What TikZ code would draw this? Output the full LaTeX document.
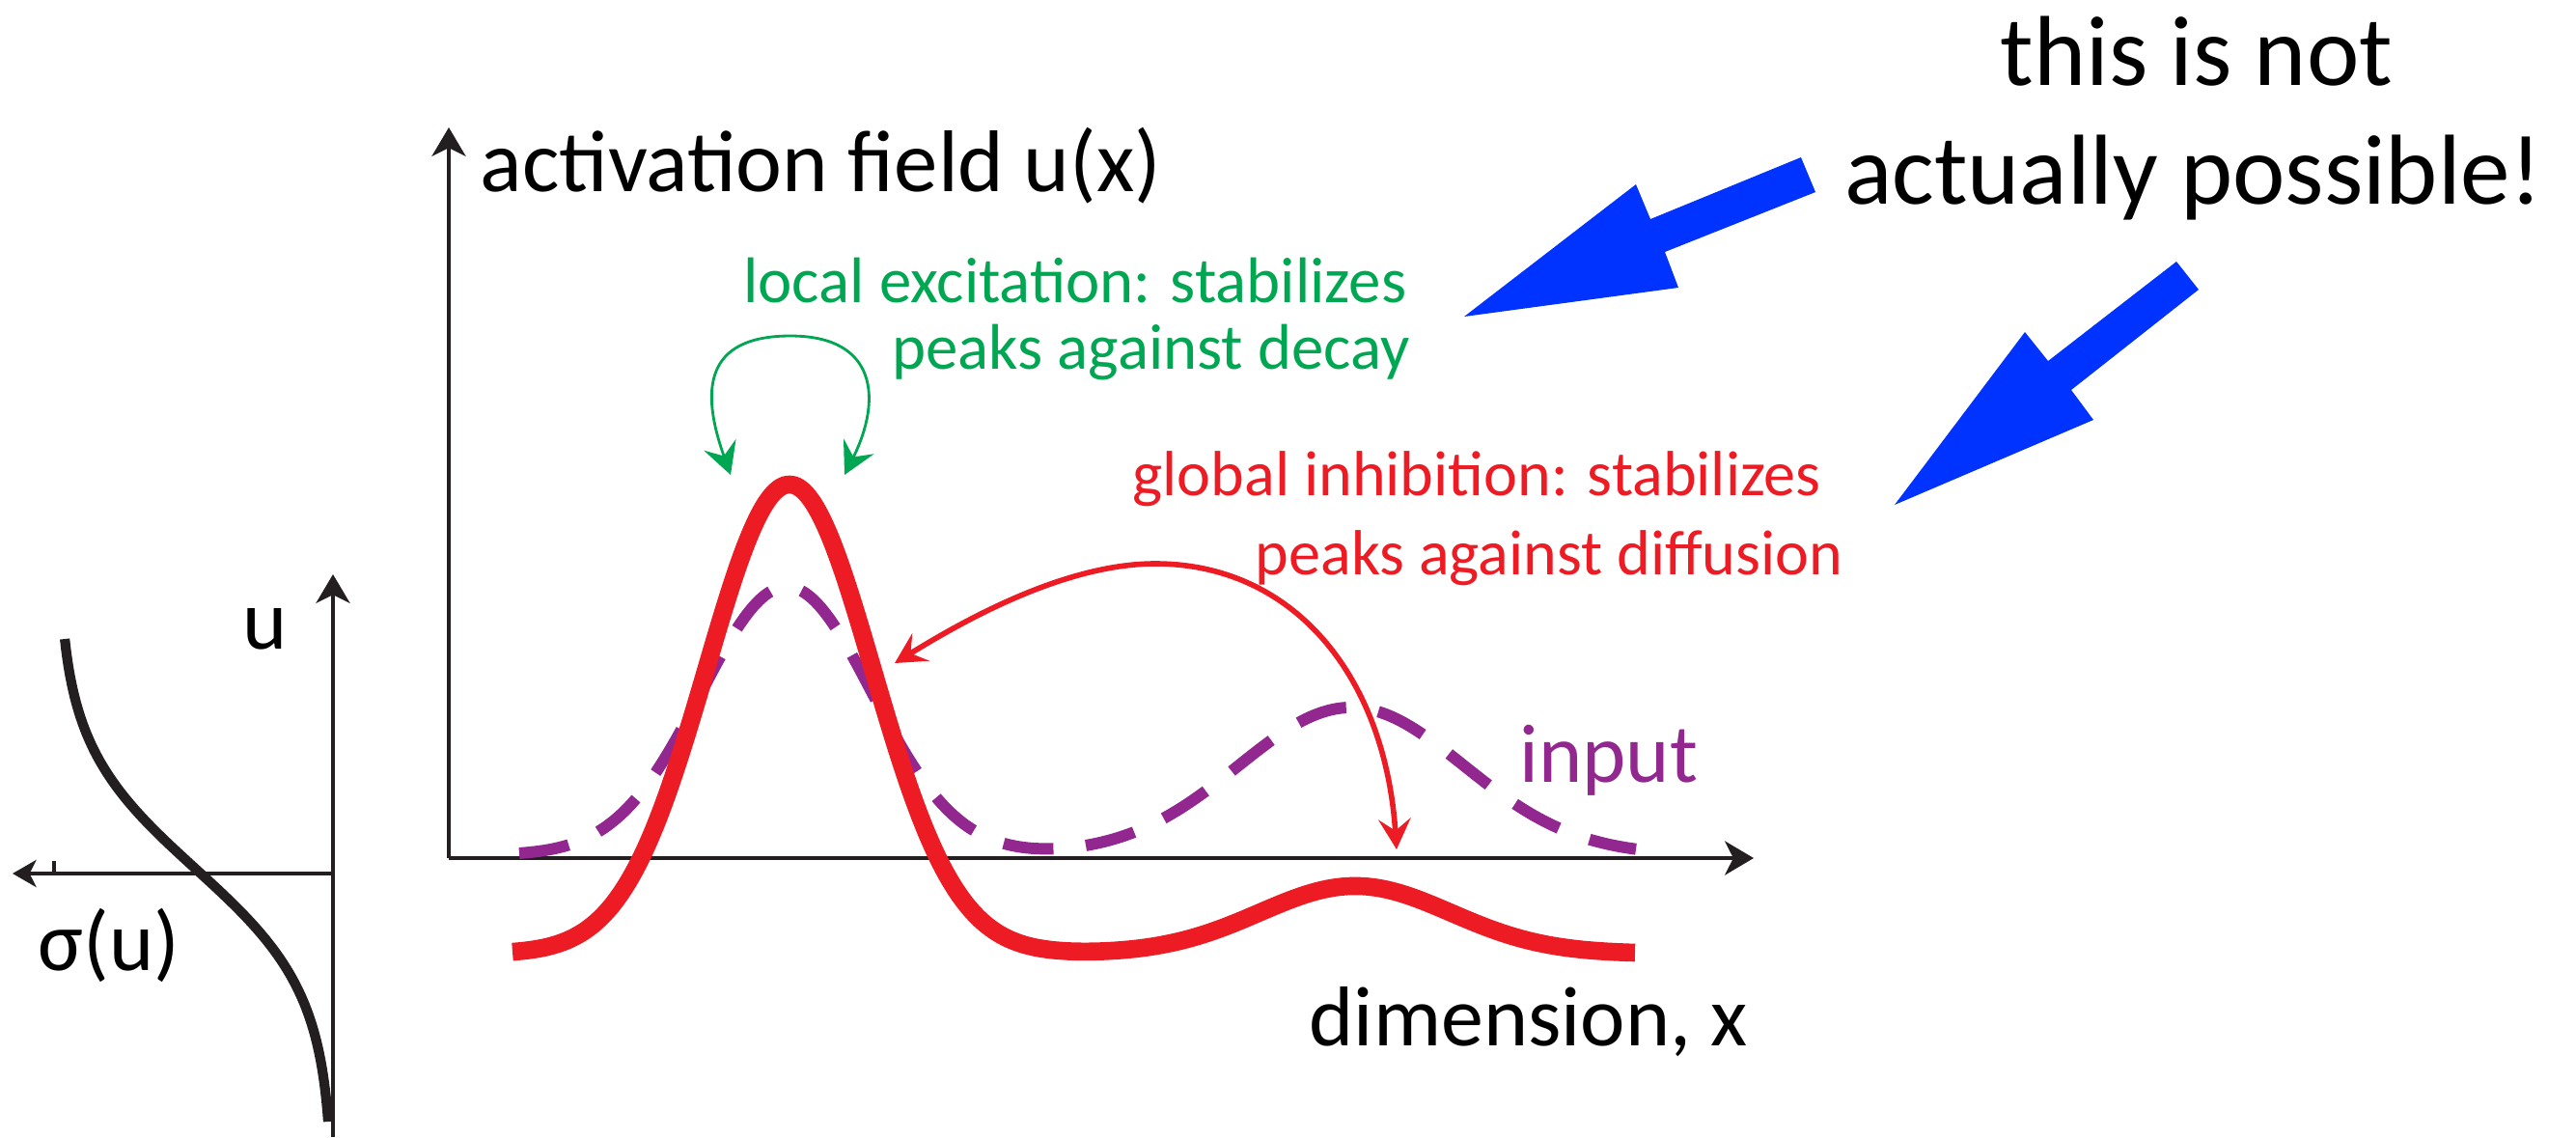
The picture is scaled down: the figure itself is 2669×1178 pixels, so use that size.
\documentclass[tikz,border=0pt]{standalone}
\usepackage{fontspec}
\setmainfont{Carlito}
\usetikzlibrary{arrows.meta}
\definecolor{myred}{HTML}{ED1C24}
\definecolor{mygreen}{HTML}{00A651}
\definecolor{mypurple}{HTML}{92278F}
\definecolor{myblue}{HTML}{0033FF}
\definecolor{myblack}{HTML}{231F20}
\tikzset{
  axisline/.style={draw=myblack, line width=1.1pt},
  axishead/.style={-{Stealth[length=8.5pt,width=10pt,inset=2.5pt]}},
  blacklabel/.style={inner sep=0pt, font=\fontsize{25}{30}\selectfont, text=black},
  greenlabel/.style={inner sep=0pt, font=\fontsize{19}{23}\selectfont, text=mygreen},
  redlabel/.style={inner sep=0pt, font=\fontsize{18.8}{23}\selectfont, text=myred},
  titlelabel/.style={inner sep=0pt, font=\fontsize{29.3}{35}\selectfont, text=black},
  fieldcurve/.style={draw=myred, line width=5.3pt},
  inputcurve/.style={draw=mypurple, line width=3.4pt, dash pattern=on 14.8pt off 9.6pt},
  bluearrow/.style={fill=myblue, draw=none},
}
\begin{document}
\begin{tikzpicture}[x=0.01cm,y=-0.01cm]
\useasboundingbox (0,0) rectangle (2669,1178);

% ---- small sigmoid plot ----
\coordinate (sorigin) at (345,905);
\coordinate (sbottom) at (345,1178);
\coordinate (stop) at (345,595);
\coordinate (sleft) at (13,905);
\draw[axisline, axishead] (sbottom) -- (stop);
\draw[axisline, -{Stealth[length=7pt,width=8pt,inset=2pt]}] (sorigin) -- (sleft);
\coordinate (tickbase) at (56,905);
\coordinate (ticktop) at (56,892);
\draw[axisline] (tickbase) -- (ticktop);
\draw[draw=myblack, line width=2.9pt] plot[domain=662:1162, samples=120, smooth]
  ({345 - 285/(1+exp((\x-900)/65))}, \x);
\node[blacklabel, anchor=base] (ulabel) at (275,672) {u};
\node[blacklabel, anchor=base west] (sigmalabel) at (39,1005) {σ(u)};

% ---- main axes ----
\coordinate (origin) at (465,889);
\coordinate (ytop) at (465,132);
\coordinate (xend) at (1817,889);
\draw[axisline, axishead] (origin) -- (ytop);
\draw[axisline, axishead] (origin) -- (xend);
\node[blacklabel, font=\fontsize{25.8}{30}\selectfont, anchor=base west] (ylabel) at (497,198) {activation field u(x)};
\node[blacklabel, anchor=base west] (xlabel) at (1356,1083) {dimension, x};

% ---- input (dashed) ----
\draw[inputcurve] plot[domain=538:1695, samples=220, smooth]
  (\x, {886 - 278*exp(-min(((\x-815)/125)^2,9)) - 153*exp(-min(((\x-1400)/165)^2,9))});
\node[inner sep=0pt, font=\fontsize{24.5}{28}\selectfont, text=mypurple, anchor=base west] (inputlabel) at (1574,810) {input};

% ---- activation field ----
\draw[fieldcurve] plot[domain=531:1694, samples=240, smooth]
  (\x, {988 - 486*exp(-min(((\x-818)/122)^2,9)) - 70*exp(-min(((\x-1404)/140)^2,9))});

% ---- local excitation ----
\node[greenlabel, anchor=base east] (green1) at (1458,313) {local excitation: stabilizes};
\node[greenlabel, anchor=base east] (green2) at (1461,382) {peaks against decay};
\coordinate (gtop) at (819,348);
\coordinate (gleft) at (757,492);
\coordinate (gright) at (875,492);
\draw[draw=mygreen, line width=0.8pt, {Stealth[length=9.4pt,width=10pt,inset=3.5pt]}-{Stealth[length=9.4pt,width=10pt,inset=3.5pt]}]
  (gleft) .. controls (726,405) and (729,348) .. (gtop)
  .. controls (909,348) and (914,414) .. (gright);

% ---- global inhibition ----
\node[redlabel, anchor=base west] (red1) at (1173,513) {global inhibition: stabilizes};
\node[redlabel, anchor=base west] (red2) at (1300,595) {peaks against diffusion};
\coordinate (rtop) at (1197,584);
\coordinate (rleft) at (927,687);
\coordinate (rright) at (1447,880);
\draw[draw=myred, line width=1.6pt, {Stealth[length=9pt,width=9.5pt,inset=3.5pt]}-{Stealth[length=9pt,width=9.5pt,inset=3.5pt]}]
  (rleft) .. controls (992,647) and (1100,584) .. (rtop)
  .. controls (1340,584) and (1435,700) .. (rright);

% ---- comment ----
\node[titlelabel, anchor=base] (title1) at (2276,88) {this is not};
\node[titlelabel, anchor=base] (title2) at (2273,211) {actually possible!};
\fill[bluearrow] (1866,163) -- (1881,199) -- (1725,261) -- (1739,298) -- (1517,328)
  -- (1695,191) -- (1710,227) -- cycle;
\fill[bluearrow] (2255,271) -- (2278,300) -- (2146,404) -- (2169,435) -- (1963,523)
  -- (2098,344) -- (2122,374) -- cycle;
\end{tikzpicture}
\end{document}
